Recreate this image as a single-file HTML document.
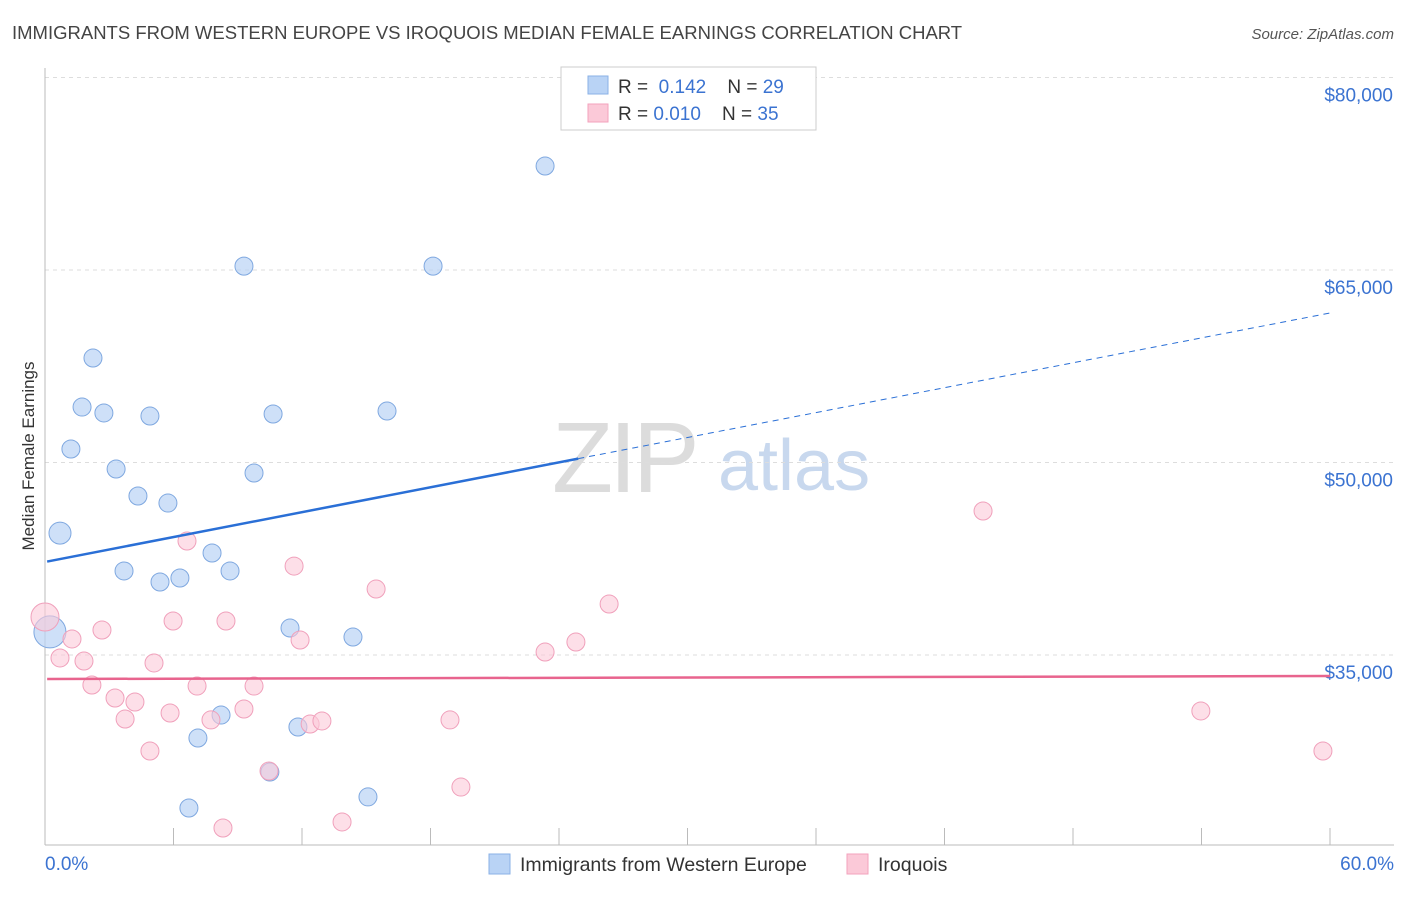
<!DOCTYPE html>
<html><head><meta charset="utf-8"><style>
body{margin:0;background:#fff;font-family:"Liberation Sans",sans-serif;}
svg text{font-family:"Liberation Sans",sans-serif;}
</style></head><body>
<svg id="chart" width="1406" height="892" xmlns="http://www.w3.org/2000/svg">
<text x="12" y="39" font-size="18.5" fill="#444">IMMIGRANTS FROM WESTERN EUROPE VS IROQUOIS MEDIAN FEMALE EARNINGS CORRELATION CHART</text>
<text x="1394" y="39" font-size="15" fill="#555" text-anchor="end" font-style="italic">Source: ZipAtlas.com</text>
<text x="552" y="492" font-size="100" fill="#dcdcdc" font-family="Liberation Serif" letter-spacing="-4">ZIP</text>
<text x="718" y="490" font-size="72" fill="#c8d8ee">atlas</text>
<g id="grid"></g>
<g id="axes"></g>
<g id="marks"></g>
<text transform="translate(34,456) rotate(-90)" font-size="17" fill="#333" text-anchor="middle">Median Female Earnings</text>
<g>
<rect x="561" y="67" width="255" height="63" fill="#fff" stroke="#ccc"/>
<rect x="588" y="76" width="20" height="18" fill="#b9d3f5" stroke="#8ab0e6"/>
<rect x="588" y="104" width="20" height="18" fill="#fbc9d8" stroke="#f3a2bc"/>
<text x="618" y="93" font-size="19" fill="#333">R = <tspan fill="#3b73d1">&#160;0.142</tspan>&#160;&#160;&#160; N = <tspan fill="#3b73d1">29</tspan></text>
<text x="618" y="120" font-size="19" fill="#333">R = <tspan fill="#3b73d1">0.010</tspan>&#160;&#160;&#160; N = <tspan fill="#3b73d1">35</tspan></text>
</g>
<g>
<rect x="489" y="854" width="21" height="20" fill="#b9d3f5" stroke="#8ab0e6"/>
<text x="520" y="871" font-size="19.5" fill="#333">Immigrants from Western Europe</text>
<rect x="847" y="854" width="21" height="20" fill="#fbc9d8" stroke="#f3a2bc"/>
<text x="878" y="871" font-size="19.5" fill="#333">Iroquois</text>
</g>
</svg>
<script>
const yTicks=[35000,50000,65000,80000];
const yTickLabels=["$35,000","$50,000","$65,000","$80,000"];
const xTicks=[0,6,12,18,24,30,36,42,48,54,60];
const blueX=[23.35,9.29,18.12,2.24,1.73,2.75,4.90,10.65,15.97,1.21,3.32,9.76,4.34,5.74,0.70,7.80,3.69,5.37,6.30,8.64,11.44,14.38,0.23,8.22,7.14,11.81,10.5,6.72,15.08];
const blueY=[73100,65300,65300,58140,54320,53860,53620,53780,54010,51050,49490,49180,47390,46840,44500,42950,41550,40690,41000,41550,37100,36400,36800,30320,28530,29390,25880,23080,23940];
const blueR=[9,9,9,9,9,9,9,9,9,9,9,9,9,9,11,9,9,9,9,9,9,9,16,9,9,9,9,9,9];
const pinkX=[0,1.26,0.70,1.82,2.66,2.19,3.27,4.20,3.74,4.90,5.09,5.98,5.84,6.63,7.10,7.75,8.45,9.76,9.29,8.31,10.46,11.63,11.91,12.38,12.93,13.87,15.46,18.91,19.42,23.35,24.79,26.34,43.8,53.97,59.67];
const pinkY=[37960,36250,34770,34530,36950,32660,31650,31340,30010,27520,34380,37650,30480,43880,32580,29940,37650,32580,30790,21520,25960,41930,36170,29620,29860,21990,40140,29940,24710,35230,36010,38970,46220,30640,27520];
const pinkR=[14,9,9,9,9,9,9,9,9,9,9,9,9,9,9,9,9,9,9,9,9,9,9,9,9,9,9,9,9,9,9,9,9,9,9];
const blueTrend=[42250,61650];
const pinkTrend=[33130,33360];
const NS="http://www.w3.org/2000/svg";
const X=v=>45+v/60*1285;
const Y=v=>655-(v-35000)/15000*192.5;
function mk(t,a,p){const e=document.createElementNS(NS,t);for(const k in a)e.setAttribute(k,a[k]);p.appendChild(e);return e;}
const grid=document.getElementById('grid'),axes=document.getElementById('axes'),marks=document.getElementById('marks');
yTicks.forEach((v,i)=>{
 const l=mk('line',{x1:45,x2:1394,y1:Y(v),y2:Y(v),stroke:'#ddd','stroke-dasharray':'4,4'},grid);
 
 
 const t=mk('text',{x:1393,y:Y(v)+24,'font-size':19,fill:'#3b73d1','text-anchor':'end'},axes);
 t.textContent=yTickLabels[i];
 
 
});
const ax=mk('line',{x1:45,x2:1394,y1:845,y2:845,stroke:'#bbb'},axes);


const ay=mk('line',{x1:45,x2:45,y1:68,y2:845,stroke:'#bbb'},axes);


xTicks.forEach(v=>{
 const t=mk('line',{x1:X(v),x2:X(v),y1:828,y2:845,stroke:'#bbb'},axes);
 
 
});
const xl0=mk('text',{x:45,y:870,'font-size':19,fill:'#3b73d1'},axes);xl0.textContent=xTicks[0].toFixed(1)+'%';


const xl1=mk('text',{x:1394,y:870,'font-size':19,fill:'#3b73d1','text-anchor':'end'},axes);xl1.textContent=xTicks[xTicks.length-1].toFixed(1)+'%';


blueX.forEach((v,i)=>{
 const c=mk('circle',{cx:X(v),cy:Y(blueY[i]),r:blueR[i],fill:'rgba(185,211,245,0.7)',stroke:'#7fa8e0','stroke-width':1},marks);
 
 
});
pinkX.forEach((v,i)=>{
 const c=mk('circle',{cx:X(v),cy:Y(pinkY[i]),r:pinkR[i],fill:'rgba(251,201,216,0.6)',stroke:'#f0a0bb','stroke-width':1},marks);
 
 
});
const bAt=x=>blueTrend[0]+(blueTrend[1]-blueTrend[0])*x/60;
const bs=mk('line',{x1:X(0.1),y1:Y(bAt(0.1)),x2:X(24.9),y2:Y(bAt(24.9)),stroke:'#2a6fd6','stroke-width':2.5},marks);


const bd=mk('line',{x1:X(24.9),y1:Y(bAt(24.9)),x2:X(60),y2:Y(bAt(60)),stroke:'#2a6fd6','stroke-width':1,'stroke-dasharray':'6,5'},marks);


const pl=mk('line',{x1:X(0.1),y1:Y(pinkTrend[0]),x2:X(60),y2:Y(pinkTrend[1]),stroke:'#e8648e','stroke-width':2.5},marks);


</script>
</body></html>
